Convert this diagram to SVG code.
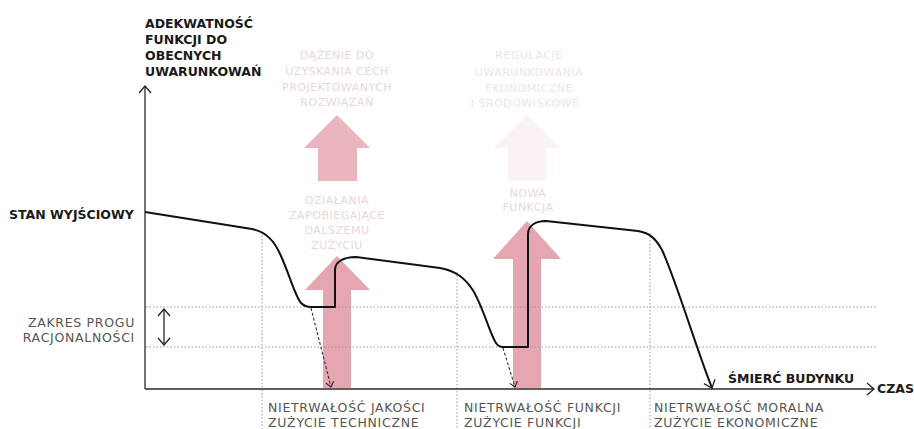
<svg xmlns="http://www.w3.org/2000/svg" width="914" height="429" viewBox="0 0 914 429">
<style>
.bold{font-family:"DejaVu Sans","Liberation Sans",sans-serif;font-weight:bold;font-size:12.5px;fill:#1a1a1a}
.lab{font-family:"DejaVu Sans","Liberation Sans",sans-serif;font-size:12.5px;letter-spacing:0.7px;fill:#555}
.fade{font-family:"DejaVu Sans","Liberation Sans",sans-serif;font-size:11px;letter-spacing:0.5px;fill:#e8d6da;text-anchor:middle}
.fade2{font-family:"DejaVu Sans","Liberation Sans",sans-serif;font-size:11px;letter-spacing:0.5px;fill:#ede5e6;text-anchor:middle}
.axis{stroke:#2a2a2a;stroke-width:1.3;fill:none}
.dot{stroke:#9a9a9a;stroke-width:1;stroke-dasharray:1.5 2;fill:none}
.curve{stroke:#111;stroke-width:2;fill:none;stroke-linejoin:round}
.dash{stroke:#333;stroke-width:1.1;stroke-dasharray:3 2;fill:none}
.pink{fill:#e5a5b1}
.pinkU{fill:#eab5be}
.pinkF{fill:#fbf2f3}
</style>
<defs>
<marker id="chev" viewBox="0 0 14 14" refX="13" refY="7" markerWidth="14" markerHeight="14" markerUnits="userSpaceOnUse" orient="auto-start-reverse">
<path d="M6,1 L13,7 L6,13" fill="none" stroke="#222" stroke-width="1.3"/>
</marker>
<marker id="chevS" viewBox="0 0 10 10" refX="9" refY="5" markerWidth="10" markerHeight="10" markerUnits="userSpaceOnUse" orient="auto">
<path d="M4,1 L9,5 L4,9" fill="none" stroke="#222" stroke-width="1.1"/>
</marker>
</defs>

<g id="pink-arrows">
<polygon id="arrow-upper-1" class="pinkU" points="337,115 370,148 357,148 357,181 318,181 318,148 304,148"/>
<polygon id="arrow-upper-2" class="pinkF" points="527,115 560,148 546,148 546,181 508,181 508,148 494,148"/>
<polygon id="arrow-lower-1" class="pink" points="337,256 370,290 351,290 351,388 323,388 323,290 305,290"/>
<polygon id="arrow-lower-2" class="pink" points="527,221 561,259 541,259 541,388 513,388 513,259 493,259"/>
</g>

<g id="grid">
<line class="dot" x1="146" y1="307" x2="876" y2="307"/>
<line class="dot" x1="146" y1="347" x2="876" y2="347"/>
<line class="dot" x1="262" y1="232" x2="262" y2="429"/>
<line class="dot" x1="457" y1="272" x2="457" y2="429"/>
<line class="dot" x1="650" y1="233" x2="650" y2="429"/>
</g>

<g id="axes">
<line class="axis" x1="145" y1="389" x2="145" y2="86" marker-end="url(#chev)"/>
<line class="axis" x1="145" y1="389" x2="874" y2="389" marker-end="url(#chev)"/>
</g>

<g id="connectors">
<path id="curve" class="curve" d="M145,212 L252,229 C266,232 274,240 281,256 C290,276 295,296 301,303 C304,306 307,307 311,307 L335,307 L335,270 C335,262 343,257 356,257 L440,268 C455,271 465,277 474,292 C484,310 490,334 496,343 C498,346 500,347 503,347 L528,347 L528,234 C528,226 535,221 546,221 L638,231 C650,233 656,239 662,250 C676,280 695,345 712,388" marker-end="url(#chev)"/>
<line class="dash" x1="311" y1="308" x2="331" y2="387" marker-end="url(#chevS)"/>
<line class="dash" x1="503" y1="348" x2="515" y2="387" marker-end="url(#chevS)"/>
<line class="axis" x1="164" y1="309" x2="164" y2="345" marker-start="url(#chev)" marker-end="url(#chev)"/>
</g>

<g id="y-label">
<text class="bold" x="145" y="28">ADEKWATNOŚĆ</text>
<text class="bold" x="145" y="44">FUNKCJI DO</text>
<text class="bold" x="145" y="60">OBECNYCH</text>
<text class="bold" x="145" y="76">UWARUNKOWAŃ</text>
</g>
<g id="start-label"><text class="bold" x="9" y="219">STAN WYJŚCIOWY</text></g>
<g id="threshold-label">
<text class="lab" x="135" y="327" text-anchor="end">ZAKRES PROGU</text>
<text class="lab" x="135" y="342" text-anchor="end">RACJONALNOŚCI</text>
</g>
<g id="death-label"><text class="bold" x="728" y="383">ŚMIERĆ BUDYNKU</text></g>
<g id="x-label"><text class="bold" x="877" y="393">CZAS</text></g>

<g id="phase-1">
<text class="lab" x="268" y="412">NIETRWAŁOŚĆ JAKOŚCI</text>
<text class="lab" x="268" y="427">ZUŻYCIE TECHNICZNE</text>
</g>
<g id="phase-2">
<text class="lab" x="464" y="412">NIETRWAŁOŚĆ FUNKCJI</text>
<text class="lab" x="464" y="427">ZUŻYCIE FUNKCJI</text>
</g>
<g id="phase-3">
<text class="lab" x="654" y="412">NIETRWAŁOŚĆ MORALNA</text>
<text class="lab" x="654" y="427">ZUŻYCIE EKONOMICZNE</text>
</g>

<g id="note-upper-1">
<text class="fade" x="337" y="59">DĄŻENIE DO</text>
<text class="fade" x="337" y="75">UZYSKANIA CECH</text>
<text class="fade" x="337" y="91">PROJEKTOWANYCH</text>
<text class="fade" x="337" y="106">ROZWIĄZAŃ</text>
</g>
<g id="note-lower-1">
<text class="fade" x="337" y="204">DZIAŁANIA</text>
<text class="fade" x="337" y="219">ZAPOBIEGAJĄCE</text>
<text class="fade" x="337" y="234">DALSZEMU</text>
<text class="fade" x="337" y="249">ZUŻYCIU</text>
</g>
<g id="note-upper-2">
<text class="fade2" x="529" y="59">REGULACJE</text>
<text class="fade2" x="529" y="76">UWARUNKOWANIA</text>
<text class="fade2" x="529" y="92">EKONOMICZNE</text>
<text class="fade2" x="525" y="107">I ŚRODOWISKOWE</text>
</g>
<g id="note-lower-2">
<text class="fade" x="528" y="197">NOWA</text>
<text class="fade" x="528" y="211">FUNKCJA</text>
</g>
</svg>
